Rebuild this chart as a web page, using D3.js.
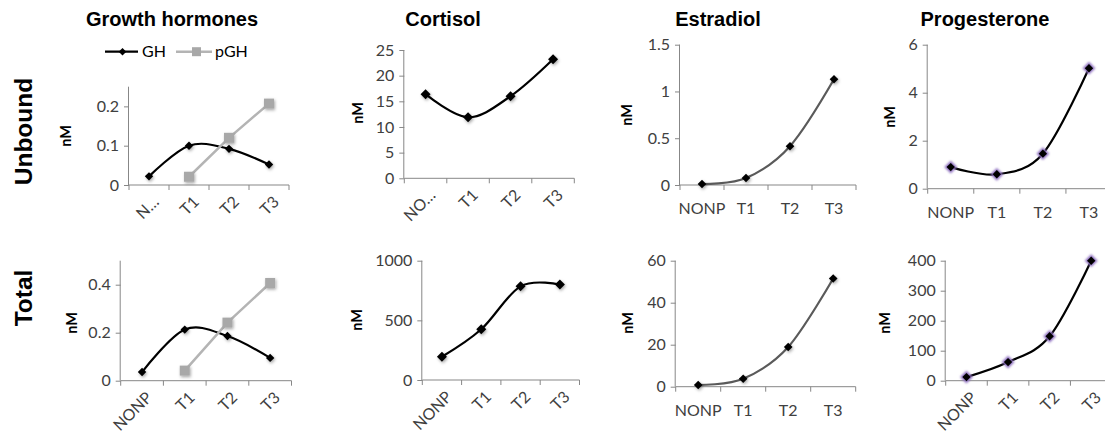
<!DOCTYPE html>
<html>
<head>
<meta charset="utf-8">
<script src="https://cdn.jsdelivr.net/npm/d3@7"></script>
<style>
  body { margin: 0; background: #fff; }
  svg { display: block; }
  .tick-lbl { font-family: Lato, "Open Sans", sans-serif; font-size: 16px; fill: #404040; }
</style>
</head>
<body>
<div id="chart"></div>
<script>
// categories and tick labels
var categories = ["NONP", "T1", "T2", "T3"];
var catLabelsGHU = ["N\u2026", "T1", "T2", "T3"];
var catLabelsCortU = ["NO\u2026", "T1", "T2", "T3"];

// series values (nM)
var ghUnbound = [0.022, 0.1, 0.092, 0.052];
var pghUnbound = [null, 0.021, 0.12, 0.207];
var cortisolUnbound = [16.4, 11.9, 16.0, 23.2];
var estradiolUnbound = [0.01, 0.075, 0.415, 1.13];
var progesteroneUnbound = [0.9, 0.6, 1.46, 5.02];

var ghTotal = [0.036, 0.213, 0.186, 0.095];
var pghTotal = [null, 0.042, 0.242, 0.407];
var cortisolTotal = [195, 425, 785, 800];
var estradiolTotal = [0.8, 3.8, 18.9, 51.5];
var progesteroneTotal = [12, 62, 148, 400];

// y tick values
var ticksGHU = [0, 0.1, 0.2];
var ticksCortU = [0, 5, 10, 15, 20, 25];
var ticksEstU = [0, 0.5, 1, 1.5];
var ticksProgU = [0, 2, 4, 6];
var ticksGHT = [0, 0.2, 0.4];
var ticksCortT = [0, 500, 1000];
var ticksEstT = [0, 20, 40, 60];
var ticksProgT = [0, 100, 200, 300, 400];

var titles = ["Growth hormones", "Cortisol", "Estradiol", "Progesterone"];
var rowLabels = ["Unbound", "Total"];

var W = 1105, H = 437;
var svg = d3.select("#chart").append("svg")
    .attr("width", W).attr("height", H);

// soft shadow under the markers
var defs = svg.append("defs");
var sh = defs.append("filter").attr("id", "shadow")
    .attr("x", "-80%").attr("y", "-80%").attr("width", "260%").attr("height", "260%");
sh.append("feDropShadow").attr("dx", 1).attr("dy", 1.5)
    .attr("stdDeviation", 1.5).attr("flood-color", "#000").attr("flood-opacity", 0.35);
var glow = defs.append("filter").attr("id", "glow")
    .attr("x", "-80%").attr("y", "-80%").attr("width", "260%").attr("height", "260%");
glow.append("feGaussianBlur").attr("stdDeviation", 1.2);

// panels: layout (axis box) + data
var panels = [
    {x0: 129, x1: 289, yTop: 86.7, y0: 185, max: 0.25, ticks: ticksGHU, labels: catLabelsGHU, rotate: true,
     nm: [66, 136], series: [{v: ghUnbound, kind: "gh"}, {v: pghUnbound, kind: "pgh"}]},
    {x0: 404.3, x1: 574.3, yTop: 50, y0: 178.3, max: 25, ticks: ticksCortU, labels: catLabelsCortU, rotate: true,
     nm: [358, 113], series: [{v: cortisolUnbound, kind: "cort"}]},
    {x0: 680, x1: 856, yTop: 44.7, y0: 185, max: 1.5, ticks: ticksEstU, labels: categories, rotate: false,
     nm: [626.5, 115], series: [{v: estradiolUnbound, kind: "est"}]},
    {x0: 927.7, x1: 1112, yTop: 44.7, y0: 188.7, max: 6, ticks: ticksProgU, labels: categories, rotate: false,
     nm: [890, 117], series: [{v: progesteroneUnbound, kind: "prog"}]},
    {x0: 120.7, x1: 291.5, yTop: 260.7, y0: 380.7, max: 0.5, ticks: ticksGHT, labels: categories, rotate: true,
     nm: [71.5, 323], series: [{v: ghTotal, kind: "gh"}, {v: pghTotal, kind: "pgh"}]},
    {x0: 422.3, x1: 579.5, yTop: 260.7, y0: 380, max: 1000, ticks: ticksCortT, labels: categories, rotate: true,
     nm: [356.5, 320], series: [{v: cortisolTotal, kind: "cort"}]},
    {x0: 675.7, x1: 855.7, yTop: 260.7, y0: 386.7, max: 60, ticks: ticksEstT, labels: categories, rotate: false,
     nm: [628, 323], series: [{v: estradiolTotal, kind: "est"}]},
    {x0: 945.7, x1: 1112, yTop: 260.7, y0: 380.7, max: 400, ticks: ticksProgT, labels: categories, rotate: true,
     nm: [885, 323], series: [{v: progesteroneTotal, kind: "prog"}]}
];

var styles = {
    gh:   {line: "#000", width: 2.2, smooth: true, marker: "diamond", r: 4.2, fill: "#000"},
    pgh:  {line: "#b4b4b4", width: 2.5, smooth: false, marker: "square", r: 5, fill: "#a8a8a8"},
    cort: {line: "#000", width: 2.2, smooth: true, marker: "diamond", r: 5, fill: "#000"},
    est:  {line: "#5a5a5a", width: 2.2, smooth: true, marker: "diamond", r: 4.3, fill: "#000"},
    prog: {line: "#000", width: 2.2, smooth: true, marker: "diamond", r: 4.2, fill: "#000", halo: "#8e6fc0"}
};

function diamond(r) { return "M0," + (-r) + "L" + r + ",0L0," + r + "L" + (-r) + ",0Z"; }
function square(r) { return "M" + (-r) + "," + (-r) + "h" + (2 * r) + "v" + (2 * r) + "h" + (-2 * r) + "Z"; }

var axisColor = "#878787";

panels.forEach(function (p) {
    var x = d3.scaleBand().domain(categories).range([p.x0, p.x1]);
    var y = d3.scaleLinear().domain([0, p.max]).range([p.y0, p.yTop]);
    var g = svg.append("g");

    // y axis
    var yAxis = g.append("g").attr("transform", "translate(" + p.x0 + ",0)")
        .call(d3.axisLeft(y).tickValues(p.ticks).tickSize(5).tickPadding(5)
            .tickFormat(function (d) { return d3.format("~g")(d); }));
    yAxis.select(".domain").attr("d", "M-0.5," + p.y0 + "V" + p.yTop);
    yAxis.selectAll("path, line").attr("stroke", axisColor);
    yAxis.selectAll("text").attr("class", "tick-lbl").attr("font-family", null).attr("font-size", null);

    // x axis with ticks at category boundaries
    var xg = g.append("g");
    xg.append("line").attr("x1", p.x0).attr("x2", p.x1).attr("y1", p.y0).attr("y2", p.y0)
        .attr("stroke", axisColor);
    var bounds = categories.map(function (c) { return x(c); }).concat([p.x1]);
    xg.selectAll("line.tk").data(bounds).enter().append("line").attr("class", "tk")
        .attr("x1", function (d) { return d; }).attr("x2", function (d) { return d; })
        .attr("y1", p.y0).attr("y2", p.y0 + 5).attr("stroke", axisColor);

    xg.selectAll("text").data(categories).enter().append("text")
        .attr("class", "tick-lbl")
        .text(function (d, i) { return p.labels[i]; })
        .each(function (d) {
            var cx = x(d) + x.bandwidth() / 2;
            var t = d3.select(this);
            if (p.rotate) {
                t.attr("text-anchor", "end")
                    .attr("transform", "translate(" + (cx + 7) + "," + (p.y0 + 14) + ") rotate(-45)")
                    .attr("dy", "0.35em");
            } else {
                t.attr("text-anchor", "middle").attr("x", cx).attr("y", p.y0 + 29);
            }
        });

    // nM label
    g.append("text")
        .attr("transform", "translate(" + p.nm[0] + "," + p.nm[1] + ") rotate(-90)")
        .attr("text-anchor", "middle").attr("dy", "0.35em")
        .style("font-family", "Lato, sans-serif").style("font-weight", "bold").style("font-size", "14.5px")
        .text("nM");

    // series
    p.series.forEach(function (s) {
        var st = styles[s.kind];
        var pts = categories.map(function (c, i) { return {c: c, v: s.v[i]}; })
            .filter(function (d) { return d.v !== null; });
        var line = d3.line()
            .x(function (d) { return x(d.c) + x.bandwidth() / 2; })
            .y(function (d) { return y(d.v); })
            .curve(st.smooth ? d3.curveCatmullRom.alpha(0) : d3.curveLinear);
        g.append("path").datum(pts).attr("d", line)
            .attr("fill", "none").attr("stroke", st.line).attr("stroke-width", st.width);

        var mk = g.append("g").selectAll("g").data(pts).enter().append("g")
            .attr("transform", function (d) {
                return "translate(" + (x(d.c) + x.bandwidth() / 2) + "," + y(d.v) + ")";
            });
        if (st.halo) {
            mk.append("path").attr("d", diamond(st.r + 2.2)).attr("fill", st.halo)
                .attr("filter", "url(#glow)");
        }
        mk.append("path")
            .attr("d", st.marker === "square" ? square(st.r) : diamond(st.r))
            .attr("fill", st.fill)
            .attr("filter", st.halo ? null : "url(#shadow)");
    });
});

// legend for growth hormones
var lg = svg.append("g").attr("transform", "translate(0,51.7)");
lg.append("line").attr("x1", 105).attr("x2", 138).attr("stroke", "#000").attr("stroke-width", 2.2);
lg.append("path").attr("transform", "translate(122.5,0)").attr("d", diamond(3.8)).attr("fill", "#000");
lg.append("text").attr("x", 142).attr("dy", "0.35em").attr("class", "tick-lbl").style("fill", "#000").text("GH");
lg.append("line").attr("x1", 176).attr("x2", 212).attr("stroke", "#b4b4b4").attr("stroke-width", 2.5);
lg.append("path").attr("transform", "translate(196.5,0)").attr("d", square(4.5)).attr("fill", "#a8a8a8");
lg.append("text").attr("x", 215).attr("dy", "0.35em").attr("class", "tick-lbl").style("fill", "#000").text("pGH");

// column titles
var titleX = [172, 443, 718, 985];
svg.selectAll("text.title").data(titles).enter().append("text")
    .attr("class", "title")
    .attr("x", function (d, i) { return titleX[i]; })
    .attr("y", 26)
    .attr("text-anchor", "middle")
    .style("font-family", "'Liberation Sans', Arial, sans-serif")
    .style("font-weight", "bold").style("font-size", "20px")
    .text(function (d) { return d; });

// row labels
var rowY = [131.5, 298];
svg.selectAll("text.row").data(rowLabels).enter().append("text")
    .attr("class", "row")
    .attr("transform", function (d, i) { return "translate(23," + rowY[i] + ") rotate(-90)"; })
    .attr("text-anchor", "middle").attr("dy", "0.36em")
    .style("font-family", "'Liberation Sans', Arial, sans-serif")
    .style("font-weight", "bold").style("font-size", "24.5px")
    .text(function (d) { return d; });
</script>
</body>
</html>
